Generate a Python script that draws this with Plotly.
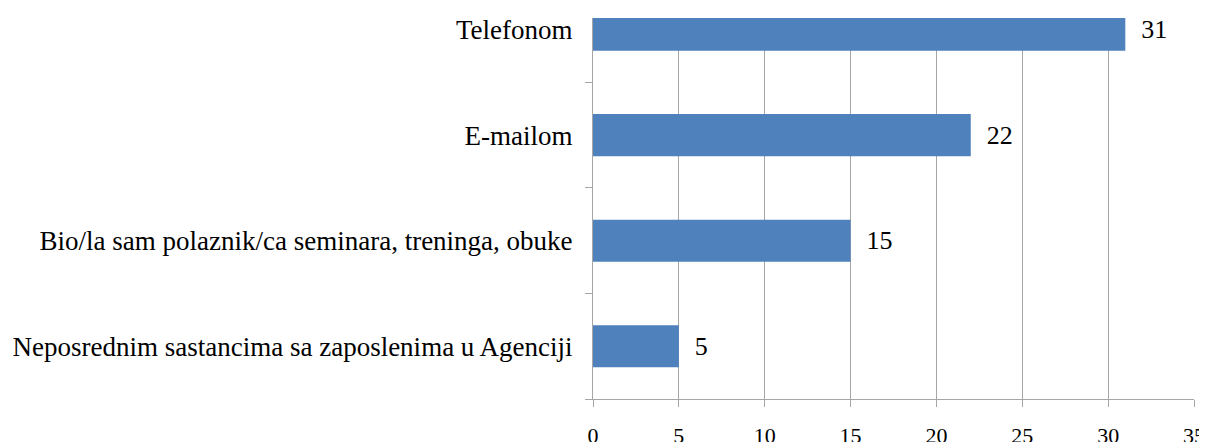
import plotly.graph_objects as go

categories = [
    "Neposrednim sastancima sa zaposlenima u Agenciji",
    "Bio/la sam polaznik/ca seminara, treninga, obuke",
    "E-mailom",
    "Telefonom",
]
values = [5, 15, 22, 31]
x_ticks = [0, 5, 10, 15, 20, 25, 30, 35]

font_family = "Liberation Serif, Times New Roman, serif"

fig = go.Figure(
    go.Bar(
        x=values,
        y=categories,
        orientation="h",
        width=0.4,
        marker=dict(color="#4F81BD", line=dict(width=0)),
        text=["  " + str(v) for v in values],
        textposition="outside",
        textfont=dict(family=font_family, size=26, color="black"),
        cliponaxis=False,
    )
)

fig.update_layout(
    width=1199,
    height=434,
    margin=dict(l=585, r=13, t=10, b=43),
    paper_bgcolor="white",
    plot_bgcolor="white",
    showlegend=False,
    font=dict(family=font_family, size=26, color="black"),
    xaxis=dict(
        range=[0, 35],
        tickvals=x_ticks,
        showgrid=True,
        gridcolor="#A6A6A6",
        gridwidth=1,
        showline=True,
        linecolor="#A6A6A6",
        linewidth=1,
        ticks="outside",
        ticklen=7,
        tickcolor="#A6A6A6",
        tickfont=dict(family=font_family, size=22, color="black"),
        ticklabelstandoff=10,
        zeroline=False,
        automargin=False,
    ),
    yaxis=dict(
        type="category",
        categoryorder="array",
        categoryarray=categories,
        range=[-0.5, 3.111],
        showgrid=False,
        showline=True,
        linecolor="#A6A6A6",
        linewidth=1,
        ticks="outside",
        tickson="boundaries",
        ticklen=7,
        tickcolor="#A6A6A6",
        tickfont=dict(family=font_family, size=27, color="black"),
        ticklabelstandoff=14,
        automargin=False,
    ),
)

fig.write_html("out.html")
